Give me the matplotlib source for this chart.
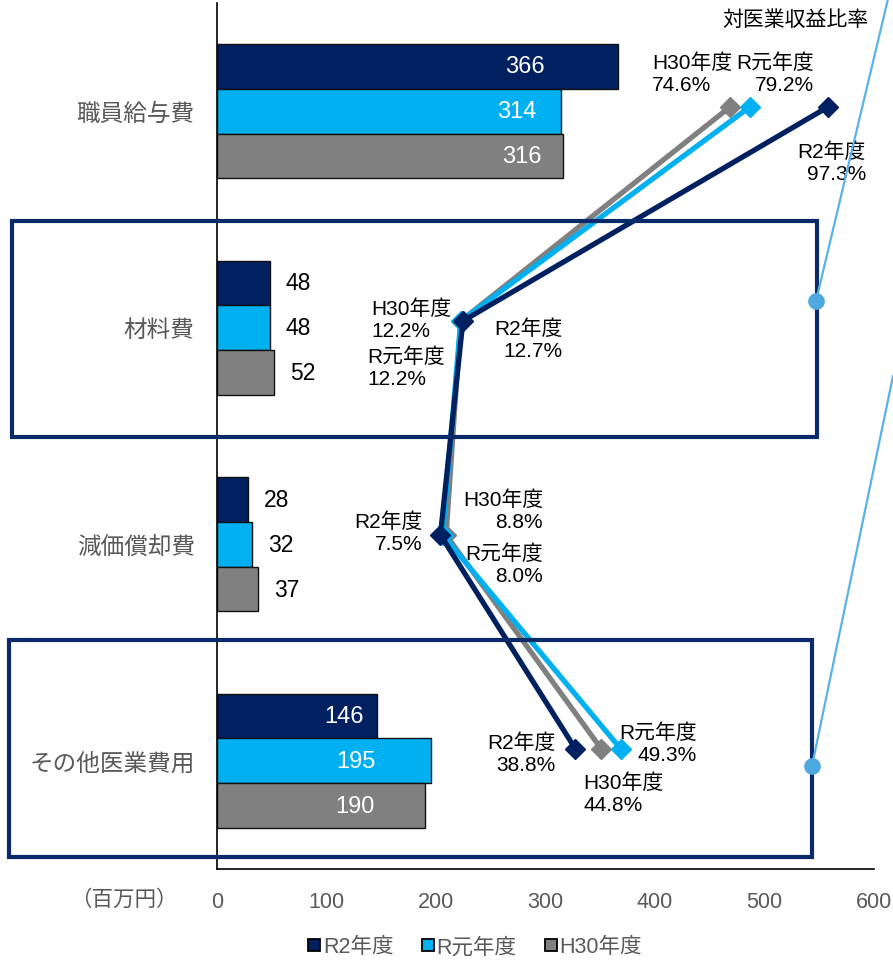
import matplotlib
matplotlib.use("Agg")
import matplotlib.pyplot as plt
from matplotlib.lines import Line2D
from matplotlib.patches import Rectangle

plt.rcParams['font.family'] = ['Liberation Sans', 'Noto Sans CJK JP', 'DejaVu Sans']

# ---------------- data ----------------
categories = ['職員給与費', '材料費', '減価償却費', 'その他医業費用']
series = ['R2年度', 'R元年度', 'H30年度']
cost_r2 = [366, 48, 28, 146]
cost_rg = [314, 48, 32, 195]
cost_h30 = [316, 52, 37, 190]
ratio_r2 = [97.3, 12.7, 7.5, 38.8]
ratio_rg = [79.2, 12.2, 8.0, 49.3]
ratio_h30 = [74.6, 12.2, 8.8, 44.8]
xticks = [0, 100, 200, 300, 400, 500, 600]
unit_label = '（百万円）'
ratio_title = '対医業収益比率'

colors = ['#002060', '#00B0F0', '#808080']
gray_txt = '#595959'

W, H = 893, 962
fig = plt.figure(figsize=(W / 100, H / 100), dpi=100)

def fx(px):
    return px / W

def fy(py):
    return 1 - py / H

ax = fig.add_axes([fx(217), fy(870), fx(874) - fx(217), fy(4) - fy(870)])
ax.set_xlim(0, 600)
ax.set_ylim(3.5, -0.5)

bar_h = 0.207
offsets = [-bar_h, 0, bar_h]
all_costs = [cost_r2, cost_rg, cost_h30]
ypos = list(range(len(categories)))

# label placement (layout only): centre of inside labels, in data units
inside_label_x = {(0, 0): 281, (1, 0): 274, (2, 0): 278,
                  (0, 3): 116, (1, 3): 127, (2, 3): 126}

for si, vals in enumerate(all_costs):
    ys = [y + offsets[si] for y in ypos]
    ax.barh(ys, vals, height=bar_h, color=colors[si], edgecolor='#111111',
            linewidth=1.0, zorder=2)
    for ci, v in enumerate(vals):
        if (si, ci) in inside_label_x:
            ax.text(inside_label_x[(si, ci)], ys[ci], str(v), ha='center',
                    va='center', color='white', fontsize=17, zorder=3)
        else:
            ax.annotate(str(v), (v, ys[ci]), xytext=(29, 0),
                        textcoords='offset pixels', ha='center', va='center',
                        color='black', fontsize=16.5, zorder=3)

ax.set_yticks(ypos)
ax.set_yticklabels(categories, fontsize=17, color=gray_txt)
ax.set_xticks(xticks)
ax.set_xticklabels([str(t) for t in xticks], fontsize=15.5, color=gray_txt)
ax.tick_params(axis='both', length=0)
ax.tick_params(axis='y', pad=16)
ax.tick_params(axis='x', pad=16)
for s in ['top', 'right']:
    ax.spines[s].set_visible(False)
for s in ['left', 'bottom']:
    ax.spines[s].set_color('black')
    ax.spines[s].set_linewidth(1.2)

fig.text(fx(124), fy(900), unit_label, ha='center', va='center',
         fontsize=15.5, color=gray_txt)

# ---------------- ratio lines ----------------
ax2 = fig.add_axes(ax.get_position())
ax2.patch.set_alpha(0)
ax2.set_xlim(-44.3, 108)
ax2.set_ylim(3.561, -0.486)
ax2.axis('off')

ratios = [ratio_h30, ratio_rg, ratio_r2]
rcolors = [colors[2], colors[1], colors[0]]
for vals, c in zip(ratios, rcolors):
    ax2.plot(vals, ypos, color=c, linewidth=3.8, marker='D', markersize=10.5,
             markerfacecolor=c, markeredgecolor=c, zorder=5, solid_joinstyle='miter')

# label offsets in pixels (layout only)
labels_layout = [
    # (series index into ratios, category, dx, dy, ha)
    (0, 0, -78, 34, 'left'),
    (1, 0, 64, 34, 'right'),
    (2, 0, 38, -55, 'right'),
    (0, 1, -89, 2, 'left'),
    (1, 1, -93, -46, 'left'),
    (2, 1, 100, -18, 'right'),
    (0, 2, 97, 25, 'right'),
    (1, 2, 100, -29, 'right'),
    (2, 2, -18, 3, 'right'),
    (1, 3, 76, 6, 'right'),
    (2, 3, -20, -4, 'right'),
    (0, 3, -18, -44, 'left'),
]
series_names = ['H30年度', 'R元年度', 'R2年度']
for si, ci, dx, dy, ha in labels_layout:
    v = ratios[si][ci]
    ax2.annotate(f'{series_names[si]}\n{v:.1f}%', (v, ypos[ci]), xytext=(dx, dy),
                 textcoords='offset pixels', ha=ha, va='center', fontsize=15,
                 color='black', linespacing=1.2, multialignment=ha, zorder=6)

fig.text(fx(795), fy(20), ratio_title, ha='center', va='center', fontsize=15,
         color='black')

# ---------------- decorations ----------------
box_c = '#0B2A6A'
fig.add_artist(Rectangle((fx(12), fy(438)), fx(817) - fx(12), fy(222) - fy(438),
                         transform=fig.transFigure, fill=False, edgecolor=box_c,
                         linewidth=3, zorder=1))
fig.add_artist(Rectangle((fx(9), fy(858)), fx(812) - fx(9), fy(641) - fy(858),
                         transform=fig.transFigure, fill=False, edgecolor=box_c,
                         linewidth=3, zorder=1))
lb = '#5AB2E8'
fig.add_artist(Line2D([fx(888), fx(816)], [fy(0), fy(302)], transform=fig.transFigure,
                      color=lb, linewidth=1.6))
fig.add_artist(Line2D([fx(816)], [fy(302)], transform=fig.transFigure, marker='o',
                      markersize=11, color='#4FA8E0', linestyle='none'))
fig.add_artist(Line2D([fx(893), fx(812)], [fy(377), fy(767)], transform=fig.transFigure,
                      color=lb, linewidth=1.6))
fig.add_artist(Line2D([fx(812)], [fy(767)], transform=fig.transFigure, marker='o',
                      markersize=11, color='#4FA8E0', linestyle='none'))

# ---------------- legend ----------------
handles = [Line2D([], [], marker='s', linestyle='none', markersize=9,
                  markerfacecolor=c, markeredgecolor='black', markeredgewidth=1.3)
           for c in colors]
leg = fig.legend(handles, series, loc='center', bbox_to_anchor=(fx(475), fy(948)),
                 ncol=3, frameon=False, fontsize=15.5, handlelength=0.6,
                 handletextpad=0.1, columnspacing=1.3)
for t in leg.get_texts():
    t.set_color(gray_txt)

fig.savefig('out.png', dpi=100)
